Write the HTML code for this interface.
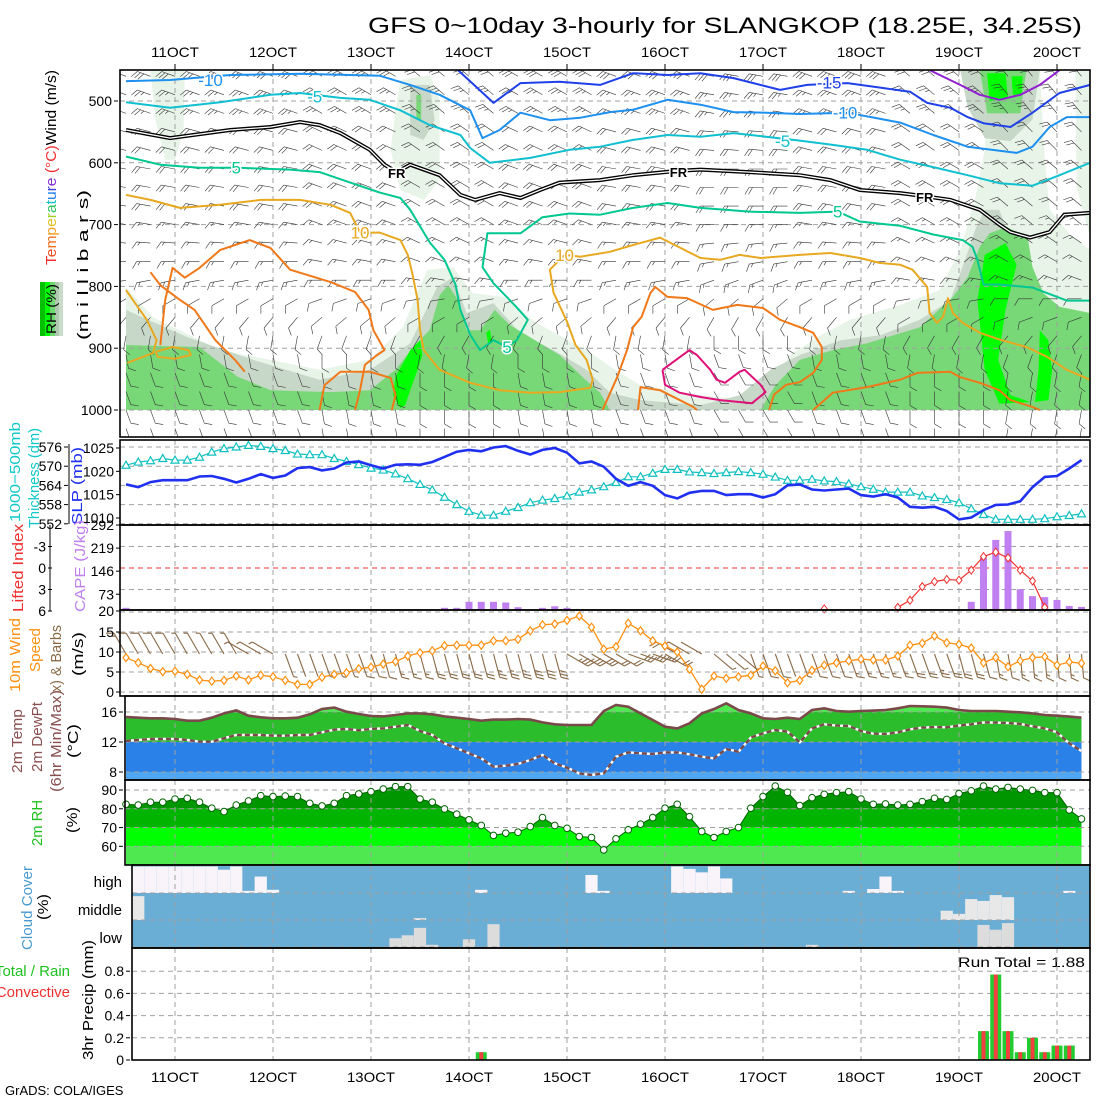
<!DOCTYPE html>
<html><head><meta charset="utf-8">
<style>
body{margin:0;background:#fff}
svg{display:block;font-family:"Liberation Sans",sans-serif}
.tk{font-size:14px;fill:#000}
</style></head>
<body>
<svg id="c" width="1100" height="1100" viewBox="0 0 1100 1100" xmlns="http://www.w3.org/2000/svg">
<rect x="0" y="0" width="1100" height="1100" fill="#fff"/>
<text x="368" y="33" font-size="22" textLength="714" lengthAdjust="spacingAndGlyphs">GFS 0~10day 3-hourly for SLANGKOP (18.25E, 34.25S)</text>
<text transform="translate(88,265) rotate(-90)" font-size="15" text-anchor="middle" textLength="150" lengthAdjust="spacingAndGlyphs">(m i l l i b a r s)</text>
<text transform="translate(56,265) rotate(-90)" font-size="15" textLength="195" lengthAdjust="spacingAndGlyphs"><tspan fill="#f03030">T</tspan><tspan fill="#f05020">e</tspan><tspan fill="#f07020">m</tspan><tspan fill="#f0a020">p</tspan><tspan fill="#e0c020">e</tspan><tspan fill="#a0d020">r</tspan><tspan fill="#30c060">a</tspan><tspan fill="#10c0c0">t</tspan><tspan fill="#2080f0">u</tspan><tspan fill="#4040e0">r</tspan><tspan fill="#8030d0">e</tspan><tspan fill="#f03030"> (°C)</tspan><tspan fill="#000">Wind (m/s)</tspan></text>
<g>
<rect x="40" y="282" width="5" height="54" fill="#00c000"/><rect x="45" y="282" width="5" height="54" fill="#00ff00"/><rect x="50" y="282" width="5" height="54" fill="#70d870"/><rect x="55" y="282" width="4" height="54" fill="#b0c8b0"/><rect x="59" y="282" width="4" height="54" fill="#c8dcc8"/>
<text transform="translate(56,334) rotate(-90)" font-size="14" textLength="50" lengthAdjust="spacingAndGlyphs">RH (%)</text>
</g>
<text transform="translate(20,522) rotate(-90)" font-size="15" fill="#10c8c8" textLength="100" lengthAdjust="spacingAndGlyphs">1000−500mb</text>
<text transform="translate(39,528) rotate(-90)" font-size="15" fill="#10c8c8" textLength="100" lengthAdjust="spacingAndGlyphs">Thickness (dm)</text>
<text transform="translate(82,525) rotate(-90)" font-size="15" fill="#2030f0" textLength="78" lengthAdjust="spacingAndGlyphs">SLP (mb)</text>
<text transform="translate(23,612) rotate(-90)" font-size="15" fill="#f03030" textLength="88" lengthAdjust="spacingAndGlyphs">Lifted Index</text>
<text transform="translate(85,612) rotate(-90)" font-size="15" fill="#c080f0" textLength="92" lengthAdjust="spacingAndGlyphs">CAPE (J/kg)</text>
<text transform="translate(20,692) rotate(-90)" font-size="15" fill="#ff9010" textLength="74" lengthAdjust="spacingAndGlyphs">10m Wind</text>
<text transform="translate(40,672) rotate(-90)" font-size="15" fill="#ff9010" textLength="44" lengthAdjust="spacingAndGlyphs">Speed</text>
<text transform="translate(61,692) rotate(-90)" font-size="15" fill="#8a6a48" textLength="67" lengthAdjust="spacingAndGlyphs">x) &amp; Barbs</text>
<text transform="translate(83,676) rotate(-90)" font-size="15" fill="#000" textLength="44" lengthAdjust="spacingAndGlyphs">(m/s)</text>
<text transform="translate(22,773) rotate(-90)" font-size="15" fill="#8a5050" textLength="64" lengthAdjust="spacingAndGlyphs">2m Temp</text>
<text transform="translate(42,772) rotate(-90)" font-size="15" fill="#8a5050" textLength="70" lengthAdjust="spacingAndGlyphs">2m DewPt</text>
<text transform="translate(61,792) rotate(-90)" font-size="15" fill="#8a5050" textLength="102" lengthAdjust="spacingAndGlyphs">(6hr Min/Max)</text>
<text transform="translate(78,758) rotate(-90)" font-size="15" fill="#000" textLength="34" lengthAdjust="spacingAndGlyphs">(°C)</text>
<text transform="translate(42,846) rotate(-90)" font-size="15" fill="#20c020" textLength="46" lengthAdjust="spacingAndGlyphs">2m RH</text>
<text transform="translate(77,833) rotate(-90)" font-size="15" fill="#000" textLength="26" lengthAdjust="spacingAndGlyphs">(%)</text>
<text transform="translate(32,950) rotate(-90)" font-size="15" fill="#4a9ad0" textLength="84" lengthAdjust="spacingAndGlyphs">Cloud Cover</text>
<text transform="translate(48,920) rotate(-90)" font-size="15" fill="#000" textLength="26" lengthAdjust="spacingAndGlyphs">(%)</text>
<text x="122" y="887" font-size="15" text-anchor="end">high</text>
<text x="122" y="915" font-size="15" text-anchor="end">middle</text>
<text x="122" y="943" font-size="15" text-anchor="end">low</text>
<text x="70" y="976" font-size="15" fill="#20c020" text-anchor="end">Total / Rain</text>
<text x="70" y="997" font-size="15" fill="#f03030" text-anchor="end">Convective</text>
<text transform="translate(93,1060) rotate(-90)" font-size="15" fill="#000" textLength="120" lengthAdjust="spacingAndGlyphs">3hr Precip (mm)</text>
<text x="958" y="967" font-size="14" textLength="127" lengthAdjust="spacingAndGlyphs">Run Total = 1.88</text>
<text x="5" y="1095" font-size="13">GrADS: COLA/IGES</text>
</svg>
<script>
const dayIdx=[4,12,20,28,36,44,52,60,68,76];
const dayLabels=['11OCT','12OCT','13OCT','14OCT','15OCT','16OCT','17OCT','18OCT','19OCT','20OCT'];
const pTicks=[500,600,700,800,900,1000];
const slpTicks=[1025,1020,1015,1010];
const thickTicks=[576,570,564,558,552];
const capeTicks=[292,219,146,73,20];
const liTicks=[-3,0,3,6];
const spdTicks=[15,10,5,0];
const tTicks=[16,12,8];
const rhTicks=[90,80,70,60];
const prTicks=[0.8,0.6,0.4,0.2,0];
const thick=[570.3,571.3,571.7,572.4,571.9,571.9,572.8,574.4,575.5,576.0,576.5,576.2,575.5,574.9,573.8,573.6,573.6,572.4,571.5,570.5,569.4,568.8,567.6,566.1,564.3,562.6,560.3,558.0,555.9,554.7,554.7,555.9,557.1,558.6,559.4,559.9,560.7,561.9,562.6,563.6,564.9,566.7,566.7,567.8,569.0,569.0,568.2,568.0,567.7,568.0,568.3,568.0,567.5,566.6,565.6,565.6,565.9,565.4,565.2,564.5,563.6,562.8,561.9,561.9,561.9,560.7,560.2,559.6,558.6,556.7,554.9,553.4,553.4,553.4,553.4,553.6,554.2,554.6,555.1];
const slp=[1017.2,1016.6,1017.7,1018.1,1018.1,1018.1,1018.9,1019.0,1018.4,1017.6,1018.4,1019.4,1018.6,1019.1,1020.7,1020.9,1020.2,1020.6,1021.9,1022.1,1021.3,1020.6,1021.4,1021.5,1021.4,1022.0,1023.1,1024.2,1024.6,1024.3,1025.1,1025.4,1024.4,1023.6,1024.6,1025.0,1024.0,1021.7,1022.1,1021.0,1018.4,1016.9,1017.7,1016.9,1014.9,1014.2,1015.4,1015.8,1015.8,1014.9,1015.1,1015.1,1014.4,1015.1,1017.0,1017.2,1016.1,1015.9,1016.1,1016.3,1014.9,1014.6,1015.1,1014.4,1012.4,1012.2,1012.4,1011.5,1009.7,1010.1,1011.7,1012.8,1012.9,1013.6,1016.6,1018.8,1019.0,1020.6,1022.4];
const cape=[30,0,0,0,0,0,0,0,0,0,0,0,0,0,0,0,0,0,0,0,0,0,0,0,0,0,30,30,49,49,49,47,32,0,30,35,30,0,0,0,0,0,0,0,0,0,0,0,0,0,0,0,0,0,0,0,0,0,0,0,0,0,0,0,0,0,0,0,0,49,189,245,273,89,67,64,55,36,33];
const li=[99,99,99,99,99,99,99,99,99,99,99,99,99,99,99,99,99,99,99,99,99,99,99,99,99,99,99,99,99,99,99,99,99,99,99,99,99,99,99,99,99,99,99,99,99,99,99,99,99,99,99,99,99,99,99,99,99,5.7,99,99,99,99,99,5.5,4.5,2.6,1.9,1.6,1.7,0.3,-1.6,-2.2,-1.4,0.3,1.8,5.5,99,99,99];
const wspd=[8.6,7.3,5.9,5.1,5.2,4.4,3.0,2.7,2.9,4.0,3.0,4.2,3.8,2.9,1.9,1.9,3.7,4.4,4.8,5.8,6.2,7.0,7.6,9.0,9.8,10.3,11.6,11.7,11.7,11.7,12.8,12.8,13.2,15.3,16.8,17.0,17.9,19.0,16.2,10.7,11.3,17.2,15.3,12.8,11.5,10.0,5.7,0.7,4.0,3.4,3.8,4.2,6.5,5.3,2.3,2.9,5.4,6.7,7.3,7.8,8.2,8.0,8.0,9.0,11.7,12.2,14.0,12.3,11.9,11.0,7.3,8.6,6.3,7.8,8.6,8.8,6.7,7.5,7.2];
const wdir=[330,330,330,330,330,330,330,330,330,330,300,300,300,160,160,160,160,160,160,160,160,165,165,165,165,165,165,165,165,165,165,165,165,165,165,165,120,120,120,120,120,110,110,110,120,300,300,300,130,130,130,160,160,160,160,160,160,160,160,160,160,160,160,160,160,160,160,160,165,165,165,170,170,175,175,175,175,175,175];
const temp=[15.33,15.24,15.16,15.16,15.07,14.84,14.84,15.24,15.82,16.22,15.51,15.29,15.16,15.16,15.24,15.69,16.4,16.58,16.04,15.73,15.47,15.42,15.6,15.82,15.82,15.69,15.42,15.24,15.07,14.84,14.98,14.98,15.07,14.98,14.62,14.36,14.27,14.27,14.27,16.13,16.93,16.71,15.82,14.93,14.04,13.82,14.49,15.82,16.4,17.16,16.27,15.82,15.16,15.07,15.24,15.07,16.27,16.49,16.13,16.04,16.13,16.18,16.27,16.49,16.8,16.76,16.71,16.58,16.27,16.13,16.13,16.13,16.04,15.96,15.82,15.6,15.51,15.38,15.24];
const dewpt=[12.13,12.27,12.4,12.4,12.4,12.27,12.04,12.04,12.49,12.93,12.93,12.93,12.84,12.84,12.93,12.93,13.29,13.64,13.73,13.56,13.73,13.82,14.04,14.27,13.47,12.93,11.82,11.16,10.49,9.82,8.71,8.84,9.07,9.6,10.27,9.16,8.58,7.82,7.6,7.82,10.04,10.62,10.49,10.4,10.62,10.62,10.36,10.04,9.82,11.07,10.71,12.58,13.16,13.6,13.38,11.96,13.82,14.36,14.18,14.13,13.47,13.11,13.07,13.29,13.69,13.91,14.0,13.96,14.18,14.36,14.62,14.58,14.53,14.4,14.09,13.82,13.29,11.82,10.8];
const rh=[82.4,82.0,83.5,83.5,85.2,85.6,83.5,80.3,78.5,82.0,84.2,87.0,86.5,86.8,86.5,82.9,81.5,82.9,87.0,87.9,89.1,90.5,91.8,91.8,85.2,83.5,79.9,77.1,74.1,71.1,65.8,67.0,67.5,70.5,75.3,71.1,69.6,65.2,64.7,58.1,64.0,68.8,71.8,75.3,80.3,82.4,75.8,67.9,64.7,67.9,70.0,80.3,86.5,92.1,88.8,81.7,85.9,87.7,88.6,89.1,85.2,82.4,82.6,82.0,82.4,83.8,85.6,85.0,88.1,89.6,92.1,90.5,91.4,90.5,89.8,88.6,88.6,79.4,74.6];
const cloudHigh=[0,100,100,100,100,100,100,100,88,100,8,62,12,0,0,0,0,0,0,0,0,0,0,0,0,0,0,0,0,12,0,0,0,0,0,0,0,0,68,8,0,0,0,0,0,100,91,78,100,55,0,0,0,0,0,0,0,0,0,8,0,15,62,8,0,0,0,0,0,0,0,0,0,0,0,0,0,8,0];
const cloudMid=[0,90,0,0,0,0,0,0,0,0,0,0,0,0,0,0,0,0,0,0,0,0,0,0,7,0,0,0,0,0,0,0,0,0,0,0,0,0,0,0,0,0,0,0,0,0,0,0,0,0,0,0,0,0,0,0,0,0,0,0,0,0,0,0,0,0,0,35,23,79,72,94,86,0,0,0,0,0,0];
const cloudLow=[0,0,0,0,0,0,0,0,0,0,0,0,0,0,0,0,0,0,0,0,0,0,37,48,76,12,0,0,33,0,90,0,0,0,0,0,0,0,0,0,0,0,0,0,0,0,0,0,0,0,0,0,0,0,0,0,12,0,0,0,0,0,0,0,0,0,0,0,0,0,87,69,94,0,0,0,0,0,0];
const precipTotal=[0,0,0,0,0,0,0,0,0,0,0,0,0,0,0,0,0,0,0,0,0,0,0,0,0,0,0,0,0,0.07,0,0,0,0,0,0,0,0,0,0,0,0,0,0,0,0,0,0,0,0,0,0,0,0,0,0,0,0,0,0,0,0,0,0,0,0,0,0,0,0,0.26,0.77,0.26,0.07,0.2,0.07,0.13,0.13,0];
const precipConv=[0,0,0,0,0,0,0,0,0,0,0,0,0,0,0,0,0,0,0,0,0,0,0,0,0,0,0,0,0,0.07,0,0,0,0,0,0,0,0,0,0,0,0,0,0,0,0,0,0,0,0,0,0,0,0,0,0,0,0,0,0,0,0,0,0,0,0,0,0,0,0,0.26,0.77,0.26,0.07,0.2,0.07,0.13,0.13,0];
const upLevels=[460,490,520,550,580,610,640,670,700,730,760,790,820,850,880,910,940,970,1000,1030];
const upDir=[290,290,290,285,285,280,280,280,280,275,270,260,240,220,190,170,160,160,160,160];
const upSpd=[15,14,13,12,11,10,10,10,9,9,8,8,7,7,7,7,7,7,6,6];
const upShiftByDay=[0,0,10,20,10,0,-10,0,20,30];
const isoM20=[[65.6,450],[68.1,474],[69.7,490],[71.3,498],[73,490],[74.6,474],[76.2,450]];
const isoM15=[[27.1,450],[30,503],[32.2,471],[35.4,469],[38.7,474],[41.4,455],[44.2,458],[46.9,455],[49.6,463],[53.4,482],[55.6,474],[58.9,471],[61.8,479],[64,485],[65.4,503],[67.3,511],[68.7,526],[70,536],[72.2,542],[74,519],[76.2,487],[78.7,474]];
const isoM10=[[0,468],[3.6,466],[8.5,458],[14.2,456],[20.7,459],[23.2,474],[25.6,490],[28.1,515],[29.1,560],[30.5,547],[32.2,519],[34.6,531],[37.1,527],[39.5,518],[41.4,514],[44.2,498],[46.9,506],[49.6,518],[52.3,519],[55,521],[58.9,519],[63.2,535],[65.9,555],[68.7,574],[72.7,584],[74,574],[75.4,542],[76.8,526],[78.7,526]];
const isoM5=[[0,502],[3.6,511],[7.7,502],[11.8,490],[14.2,487],[17.5,495],[19.9,498],[22.4,515],[24.8,539],[27.3,555],[28.1,576],[29.7,600],[33,592],[36.2,579],[38.7,574],[41.4,563],[44.2,555],[46.9,558],[49.6,552],[55,564],[57.7,571],[60.5,579],[63.2,595],[65.9,607],[68.7,620],[71.3,633],[74,637],[76.2,620],[78.7,600]];
const isoFR=[[0,547],[3.6,560],[8.5,547],[11.8,542],[14.2,534],[15.8,539],[17.5,552],[19.9,579],[21.1,603],[22.1,615],[23.2,603],[25.6,620],[27.3,652],[28.5,660],[30.5,649],[32.2,657],[33.8,644],[35.4,632],[38.7,628],[41.4,620],[45.1,613],[46.9,611],[50.9,615],[55,620],[57.5,628],[59.9,644],[63.2,649],[65.2,654],[67.3,660],[69.7,676],[71.3,700],[72.2,712],[73.8,721],[75.4,712],[76.6,684],[78.7,681]];
const iso5=[[0,590],[2.8,603],[6,608],[9,608],[13.4,611],[15.8,615],[18.3,632],[20.7,648],[22.4,657],[23.2,676],[24.8,729],[26,757],[26.9,797],[27.3,838],[28.1,878],[28.9,903],[30,887],[31.1,898],[31.9,887],[32.8,854],[31.9,834],[30,795],[29.1,769],[29.5,714],[32.2,714],[34,688],[36.2,682],[38.7,684],[41.4,673],[44.2,665],[46.9,673],[50.9,679],[55,681],[58.1,679],[59.9,695],[63.2,702],[65.9,716],[68.3,725],[69.1,736],[69.5,757],[70,797],[71.3,797],[74,802],[76.8,823],[78.7,823]];
const iso10=[[0,652],[2,660],[4.4,673],[7.7,668],[11,660],[14.2,660],[16.7,668],[18.3,681],[19.1,713],[20.7,713],[22.4,725],[23,749],[23.4,781],[23.8,822],[24,870],[24.3,903],[25.6,935],[28.1,956],[30.5,968],[33,972],[35.4,971],[37.9,964],[38.1,951],[37.6,919],[36.7,895],[36,857],[34.9,810],[34.6,773],[35.8,749],[37.1,752],[39.5,744],[41.4,733],[43.6,721],[45.2,737],[46.9,754],[48.5,757],[50.1,749],[51.8,754],[55,749],[57.5,746],[59.9,754],[61.5,762],[63.2,765],[64.2,773],[65.4,801],[65.6,843],[66.2,859],[66.7,849],[67.1,819],[67.5,843],[68.3,859],[69.7,875],[71.3,886],[73.5,898],[75.2,914],[76.8,935],[78.7,951]];
const iso10b=[[0,806],[1.7,854],[2.5,887],[2.2,908],[0.1,924]];
const iso10c=[[2.4,906],[3.8,898],[5.1,903],[5.3,911],[4,917],[2.6,914],[2.4,906]];
const iso15a=[[2.8,895],[3.2,822],[3.8,770],[4.8,786],[6,770],[7.7,741],[10.1,725],[11.8,738],[13.4,773],[16.7,793],[18.7,809],[19.8,838],[20.2,871],[21.1,903],[20.5,911],[19.5,927],[19.1,968],[18.7,1000]];
const iso15b=[[2,777],[2.8,798],[4.2,819],[5.6,838],[7.3,887],[8.9,919],[9.7,938]];
const iso15c=[[15.8,1000],[16.2,960],[17.5,938],[19.9,938],[21.6,948],[22,976],[21.7,1000]];
const iso15d=[[38.9,1000],[40.1,947],[40.9,903],[41.4,866],[42.1,849],[42.8,811],[43.2,801],[44.2,817],[45.8,819],[47.9,838],[49.9,830],[52,835],[53.4,854],[55,866],[56.1,875],[56.8,898],[56.8,919],[56.1,940],[55,955],[53.9,959],[52.9,975],[52.5,1000]];
const iso15e=[[41.8,1000],[42,963],[43.6,968],[46.3,995],[46.6,1000]];
const iso15f=[[56.1,1000],[57.7,972],[60.5,963],[63.2,951],[64.6,940],[67.3,938],[68.1,947],[69.7,956],[71.3,968],[72.2,984],[74,995],[74.6,1000]];
const iso20=[[43.8,935],[46,903],[46.6,911],[47.7,935],[48.2,951],[48.9,956],[50.1,938],[50.5,935],[51.8,959],[52.2,971],[51.1,989],[48.5,984],[46.9,979],[45.2,972],[44,959],[43.8,935]];
const rh30Top=[[0,801],[2.2,850],[7.7,903],[15.8,935],[19.9,919],[22.6,866],[24.6,773],[26.7,769],[28.3,811],[30.8,817],[33.6,860],[37.6,903],[39.9,935],[42,960],[46.9,976],[50.9,984],[52.6,960],[54.2,911],[56.7,879],[59.1,854],[63.2,830],[66.4,806],[68.1,741],[69.3,660],[70.1,579],[70.5,450],[74.6,450],[75,595],[75.4,676],[77.1,717],[78.7,741]];
const rh50Top=[[0,838],[5,882],[10.4,919],[15.8,951],[19.9,935],[23.2,892],[25.4,801],[26.7,785],[27.8,843],[30,827],[32.2,876],[34.9,903],[37.6,935],[39.5,972],[42,984],[46.9,992],[50.1,976],[52.6,935],[55,911],[58.3,887],[61.6,879],[64.8,854],[67.3,822],[68.5,757],[69.3,709],[70.1,676],[71.3,676],[72.2,725],[73.8,757],[75,822],[77.1,854],[78.7,871]];
const rh70Top=[[0,895],[6,898],[9.1,946],[11.8,968],[16.7,971],[19.9,968],[22,935],[23.6,895],[24.8,870],[25.6,814],[26.3,798],[27.1,822],[27.8,871],[28.9,871],[30.1,838],[31.3,862],[33.4,887],[35.4,911],[37.5,951],[38.7,972],[39.5,1000],[51.8,1000],[53,960],[55,919],[57.7,903],[60.5,892],[64.8,866],[67.5,817],[68.7,785],[69.7,736],[70.5,714],[71.9,704],[73.6,720],[74,769],[74.9,811],[76.2,833],[78.7,843]];
const rh30Blobs=[[[2,450],[4.8,450],[4.7,547],[4,595],[3.2,595],[2.4,530]],[[22.4,466],[24.8,458],[25.6,498],[25.6,627],[24.3,660],[22.4,644],[21.6,579],[22,514]],[[77.5,450],[78.7,450],[78.7,720],[77.6,640]]];
const rh50Blobs=[[[23.2,474],[24.8,474],[25.2,531],[24.3,563],[23.2,555]],[[68.1,450],[74.6,450],[74,530],[72.2,565],[70.1,560],[68.7,510]]];
const rh70Blobs=[[[23.7,490],[24.1,490],[24.1,530],[23.7,530]],[[69.7,450],[73.5,450],[73,520],[70.3,520]]];
const rh90Blobs=[[[22,946],[23.2,903],[24,887],[24.2,911],[23.8,935],[23.2,968],[22.8,992],[22.4,997],[21.8,976]],[[29.4,875],[29.7,870],[29.9,890],[29.6,895]],[[70.1,749],[71.8,730],[72.7,765],[71.8,838],[71.2,919],[72.2,976],[73.8,987],[71.3,990],[70.1,935],[69.5,822]],[[74.6,871],[75.3,887],[75.6,935],[75.3,984],[74.2,987],[74.5,935]],[[70.3,455],[71.8,455],[72,495],[70.5,500]],[[72.3,460],[73.2,460],[73.1,490],[72.4,490]]];

const NS='http://www.w3.org/2000/svg';
const svg=document.getElementById('c');
function mk(tag,a,parent){const e=document.createElementNS(NS,tag);for(const k in a)e.setAttribute(k,a[k]);(parent||svg).appendChild(e);return e;}
const X=i=>126+12.25*i;
const Yp=p=>101+(p-500)*0.618;
const Yslp=v=>448+(1025-v)*4.667;
const Yth=v=>447+(576-v)*3.2;
const Ycape=v=>611-(v-20)*0.316;
const Yli=v=>568+v*7.17;
const Ysp=v=>692-v*4;
const Yt=v=>712+(16-v)*7.5;
const Yrh=v=>790+(90-v)*1.877;
const Ypr=v=>1060-v*111;
const N=temp.length;
function pathOf(pts){return pts.map((q,k)=>(k?'L':'M')+q[0].toFixed(1)+','+q[1].toFixed(1)).join(' ');}
function ipPts(arr){return arr.map(q=>[X(q[0]),Yp(q[1])]);}
function series(arr,fy){const r=[];arr.forEach((v,i)=>r.push([X(i),fy(v)]));return r;}

const panels=[['top-panel',120,70,1090,437],['slp-panel',120,440,1090,525],['cape-panel',120,525,1090,610],['wind-panel',120,610,1090,696],['temp-panel',125,696,1090,780],['rh-panel',125,780,1090,865],['cloud-panel',132,865,1090,948],['precip-panel',132,948,1090,1060]];

const defs=mk('defs',{});
const cp=mk('clipPath',{id:'topclip'},defs);mk('rect',{x:120,y:70,width:970,height:367},cp);

const gTop=mk('g',{'clip-path':'url(#topclip)'});


function region(top,fill,name){const pts=ipPts(top);pts.push([X(78.7),Yp(1000)]);pts.push([X(0),Yp(1000)]);const e=mk('path',{d:pathOf(pts)+'Z',fill:fill},gTop);

}
function blob(b,fill,name){const e=mk('path',{d:pathOf(ipPts(b))+'Z',fill:fill},gTop);

}
region(rh30Top,'#e8f4e8','rh30-shading');
rh30Blobs.forEach(b=>blob(b,'#e8f4e8','rh30-patch'));
region(rh50Top,'#c8d8c8','rh50-shading');
rh50Blobs.forEach(b=>blob(b,'#c8d8c8','rh50-patch'));
region(rh70Top,'#78d878','rh70-shading');
rh70Blobs.forEach(b=>blob(b,'#78d878','rh70-patch'));
rh90Blobs.forEach(b=>blob(b,'#00ff00','rh90-patch'));
function grid(g,x1,x2,ys,y1,y2,name){ys.forEach(y=>{const e=mk('line',{x1:x1,x2:x2,y1:y,y2:y,stroke:'#a0a0a0','stroke-dasharray':'5,4','stroke-width':1},g);

});
dayIdx.forEach(i=>{const e=mk('line',{x1:X(i),x2:X(i),y1:y1,y2:y2,stroke:'#a0a0a0','stroke-dasharray':'5,4','stroke-width':1},g);

});}
grid(gTop,120,1090,pTicks.map(Yp),70,437,'top');
function barb(g,x,y,dir,spd,L,col,w){const r=dir*Math.PI/180;const ex=x+L*Math.sin(r),ey=y-L*Math.cos(r);let d='M'+x.toFixed(1)+','+y.toFixed(1)+'L'+ex.toFixed(1)+','+ey.toFixed(1);
const ux=(x-ex)/L,uy=(y-ey)/L;const fx=Math.cos(-1.05)*ux-Math.sin(-1.05)*uy,fy=Math.sin(-1.05)*ux+Math.cos(-1.05)*uy;
let s=spd,k=0;while(s>=4.9&&k<5){const bx=ex+ux*k*3.5,by=ey+uy*k*3.5;d+='M'+bx.toFixed(1)+','+by.toFixed(1)+'l'+(-fx*8).toFixed(1)+','+(-fy*8).toFixed(1);s-=5;k++;}
if(s>=2.4){const bx=ex+ux*k*3.5,by=ey+uy*k*3.5;d+='M'+bx.toFixed(1)+','+by.toFixed(1)+'l'+(-fx*4).toFixed(1)+','+(-fy*4).toFixed(1);}
const e=mk('path',{d:d,stroke:col,'stroke-width':w,fill:'none'},g);return e;}
const gUB=mk('g',{},gTop);


for(let i=0;i<N;i+=2){const sh=upShiftByDay[Math.min(9,Math.floor(i/8))];upLevels.forEach((p,k)=>{const e=barb(gUB,X(i),Yp(p),upDir[k]+sh,upSpd[k],14,'#333',0.6);

});}
function contour(arr,col,w,name){const e=mk('path',{d:pathOf(ipPts(arr)),stroke:col,'stroke-width':w,fill:'none','stroke-linejoin':'round'},gTop);

}
const fr1=mk('path',{d:pathOf(ipPts(isoFR)),stroke:'#000','stroke-width':4,fill:'none'},gTop);


const fr2=mk('path',{d:pathOf(ipPts(isoFR)),stroke:'#fff','stroke-width':1.3,fill:'none'},gTop);


contour(isoM20,'#9020d0',2,'isotherm-minus20');
contour(isoM15,'#2040e8',2,'isotherm-minus15');
contour(isoM10,'#1e90f0',2,'isotherm-minus10');
contour(isoM5,'#10c0d0',2,'isotherm-minus5');
contour(iso5,'#00c890',2,'isotherm-5');
contour(iso10,'#e8a820',2,'isotherm-10');
contour(iso10b,'#e8a820',2,'isotherm-10-b');
contour(iso10c,'#e8a820',2,'isotherm-10-c');
[iso15a,iso15b,iso15c,iso15d,iso15e,iso15f].forEach(a=>contour(a,'#f07818',2,'isotherm-15'));
contour(iso20,'#e0107a',2,'isotherm-20');
const cLabels=[['-15',57.4,470,'#2040e8'],['-10',6.9,466,'#1e90f0'],['-10',58.7,519,'#1e90f0'],['-5',15.4,493,'#10c0d0'],['-5',53.6,565,'#10c0d0'],['FR',22.1,615,'#000'],['FR',45.1,613,'#000'],['FR',65.2,654,'#000'],['5',9,608,'#00c890'],['5',31.1,898,'#00c890'],['5',58.1,679,'#00c890'],['10',19.1,713,'#e8a820'],['10',35.8,749,'#e8a820']];
cLabels.forEach(l=>{const t=mk('text',{x:X(l[1]),y:Yp(l[2])+6,'text-anchor':'middle','font-size':l[0]==='FR'?13:17,fill:l[3],stroke:'#fff','stroke-width':3,'paint-order':'stroke','font-weight':l[0]==='FR'?'bold':'normal'},gTop);t.textContent=l[0];

});

const g2=mk('g',{});


grid(g2,120,1090,thickTicks.map(Yth),440,525,'slp');
const thl=mk('path',{d:pathOf(series(thick,Yth)),stroke:'#10c0c0','stroke-width':1.2,fill:'none'},g2);


thick.forEach((v,i)=>{const x=X(i),y=Yth(v);const m=mk('path',{d:`M${x-4},${y+3}L${x},${y-4}L${x+4},${y+3}Z`,stroke:'#10c0c0','stroke-width':1.2,fill:'#fff'},g2);

});
const sl=mk('path',{d:pathOf(series(slp,Yslp)),stroke:'#2030f0','stroke-width':2.6,fill:'none'},g2);



const g3=mk('g',{});


grid(g3,120,1090,[Yli(-3),Yli(3)],525,610,'cape');
const zl=mk('line',{x1:120,x2:1090,y1:Yli(0),y2:Yli(0),stroke:'#f03030','stroke-dasharray':'5,4'},g3);


cape.forEach((v,i)=>{if(v<=20)return;const b=mk('rect',{x:X(i)-3.5,y:Ycape(v),width:7,height:610-Ycape(v),fill:'#c080f0'},g3);

});
for(let i=1;i<N;i++){if(li[i]<=6&&li[i-1]<=6){const s=mk('line',{x1:X(i-1),y1:Yli(li[i-1]),x2:X(i),y2:Yli(li[i]),stroke:'#f03030','stroke-width':1.2},g3);

}}
li.forEach((v,i)=>{if(v>6)return;const x=X(i),y=Yli(v);const m=mk('path',{d:`M${x},${y-4}L${x+3},${y}L${x},${y+4}L${x-3},${y}Z`,stroke:'#f03030',fill:'#fff','stroke-width':1},g3);

});

const g4=mk('g',{});


grid(g4,120,1090,[612,...spdTicks.map(Ysp)],610,696,'wind');
wdir.forEach((d,i)=>{const e=barb(g4,X(i),654,d,wspd[i],24,'#8a6a48',1.1);

});
const wl=mk('path',{d:pathOf(series(wspd,Ysp)),stroke:'#ff9010','stroke-width':1.3,fill:'none'},g4);


wspd.forEach((v,i)=>{const x=X(i),y=Ysp(v);const m=mk('path',{d:`M${x},${y-4}L${x+3},${y}L${x},${y+4}L${x-3},${y}Z`,stroke:'#ff9010',fill:'#fff','stroke-width':1.2},g4);

});

const g5=mk('g',{});


const cpT=mk('clipPath',{id:'tclip'},defs);
const tArea=series(temp,Yt);tArea.push([X(N-1),780]);tArea.push([X(0),780]);
mk('path',{d:pathOf(tArea)+'Z'},cpT);
const gTf=mk('g',{'clip-path':'url(#tclip)'},g5);
[[690,Yt(16),'#50e850'],[Yt(16),Yt(12),'#2cbd2c'],[Yt(12),Yt(8),'#2a82e8'],[Yt(8),780,'#50a6f0']].forEach(b=>{const r=mk('rect',{x:120,y:b[0],width:970,height:b[1]-b[0],fill:b[2]},gTf);

});
grid(g5,125,1090,tTicks.map(Yt),696,780,'temp');
const tl=mk('path',{d:pathOf(series(temp,Yt)),stroke:'#7a4a4a','stroke-width':2.6,fill:'none'},g5);


const dl1=mk('path',{d:pathOf(series(dewpt,Yt)),stroke:'#fff','stroke-width':2.4,fill:'none'},g5);


const dl2=mk('path',{d:pathOf(series(dewpt,Yt)),stroke:'#7a4a4a','stroke-width':2.4,'stroke-dasharray':'5,3',fill:'none'},g5);



const g6=mk('g',{});


const cpR=mk('clipPath',{id:'rclip'},defs);
const rArea=series(rh,Yrh);rArea.push([X(N-1),865]);rArea.push([X(0),865]);
mk('path',{d:pathOf(rArea)+'Z'},cpR);
const gRf=mk('g',{'clip-path':'url(#rclip)'},g6);
[[775,Yrh(80),'#009600'],[Yrh(80),Yrh(70),'#00b400'],[Yrh(70),Yrh(60),'#00ff00'],[Yrh(60),866,'#50e850']].forEach(b=>{const r=mk('rect',{x:120,y:b[0],width:970,height:b[1]-b[0],fill:b[2]},gRf);

});
grid(g6,125,1090,rhTicks.map(Yrh),780,865,'rh');
const rl=mk('path',{d:pathOf(series(rh,Yrh)),stroke:'#006400','stroke-width':1,fill:'none'},g6);


rh.forEach((v,i)=>{const c=mk('circle',{cx:X(i),cy:Yrh(v),r:3.3,fill:'#fff',stroke:'#006400','stroke-width':1},g6);

});

const g7=mk('g',{});


const cbg=mk('rect',{x:132,y:866,width:958,height:82,fill:'#6aaed6'},g7);


function cloudBars(arr,bot,col,name){arr.forEach((v,i)=>{if(v<=0)return;const h=v/100*26.5;const x0=Math.max(132,X(i)-6.1);const r=mk('rect',{x:x0,y:bot-h,width:X(i)+6.1-x0,height:h,fill:col},g7);

});}
cloudBars(cloudHigh,893,'#f8f4fa','cloud-high-bar');
cloudBars(cloudMid,920,'#e8e8e8','cloud-middle-bar');
cloudBars(cloudLow,948,'#dcdcdc','cloud-low-bar');
grid(g7,132,1090,[893,920,947],866,948,'cloud');

const g8=mk('g',{});


grid(g8,132,1090,[0.2,0.4,0.6,0.8].map(Ypr),948,1060,'precip');
precipTotal.forEach((v,i)=>{if(v<=0)return;const r=mk('rect',{x:X(i)-5.5,y:Ypr(v),width:11,height:1060-Ypr(v),fill:'#20cc30'},g8);

});
precipConv.forEach((v,i)=>{if(v<=0)return;const r=mk('rect',{x:X(i)-2,y:Ypr(v),width:4,height:1060-Ypr(v),fill:'#f04040'},g8);

});

panels.forEach(p=>{const r=mk('rect',{x:p[1],y:p[2],width:p[3]-p[1],height:p[4]-p[2],fill:'none',stroke:'#000','stroke-width':1.6});

});

function tickLabels(vals,fy,x,name,fmt){vals.forEach(v=>{const t=mk('text',{x:x,y:fy(v)+5,'text-anchor':'end',class:'tk'});t.textContent=fmt?fmt(v):String(v);


const tk=mk('line',{x1:x+2,x2:x+6,y1:fy(v),y2:fy(v),stroke:'#000'});

});}
tickLabels(pTicks,Yp,112,'pressure-tick');
tickLabels(slpTicks,Yslp,114,'slp-tick');
tickLabels(thickTicks,Yth,62,'thickness-tick');
tickLabels(capeTicks,Ycape,114,'cape-tick');
tickLabels(liTicks,Yli,46,'li-tick');
tickLabels(spdTicks,Ysp,114,'wind-speed-tick');
tickLabels(tTicks,Yt,117,'temperature-tick');
tickLabels(rhTicks,Yrh,117,'rh-tick');
tickLabels(prTicks,Ypr,124,'precip-tick',v=>v===0?'0':String(v));
const ax1=mk('line',{x1:69,x2:69,y1:444,y2:524,stroke:'#000'});


const ax2=mk('line',{x1:50,x2:50,y1:525,y2:611,stroke:'#000'});


dayIdx.forEach((i,k)=>{[57,1082].forEach(y=>{const t=mk('text',{x:X(i),y:y,'text-anchor':'middle','font-size':14,textLength:48,lengthAdjust:'spacingAndGlyphs'});t.textContent=dayLabels[k];

});
const tk=mk('line',{x1:X(i),x2:X(i),y1:64,y2:70,stroke:'#000'});

});
</script>
</body></html>
